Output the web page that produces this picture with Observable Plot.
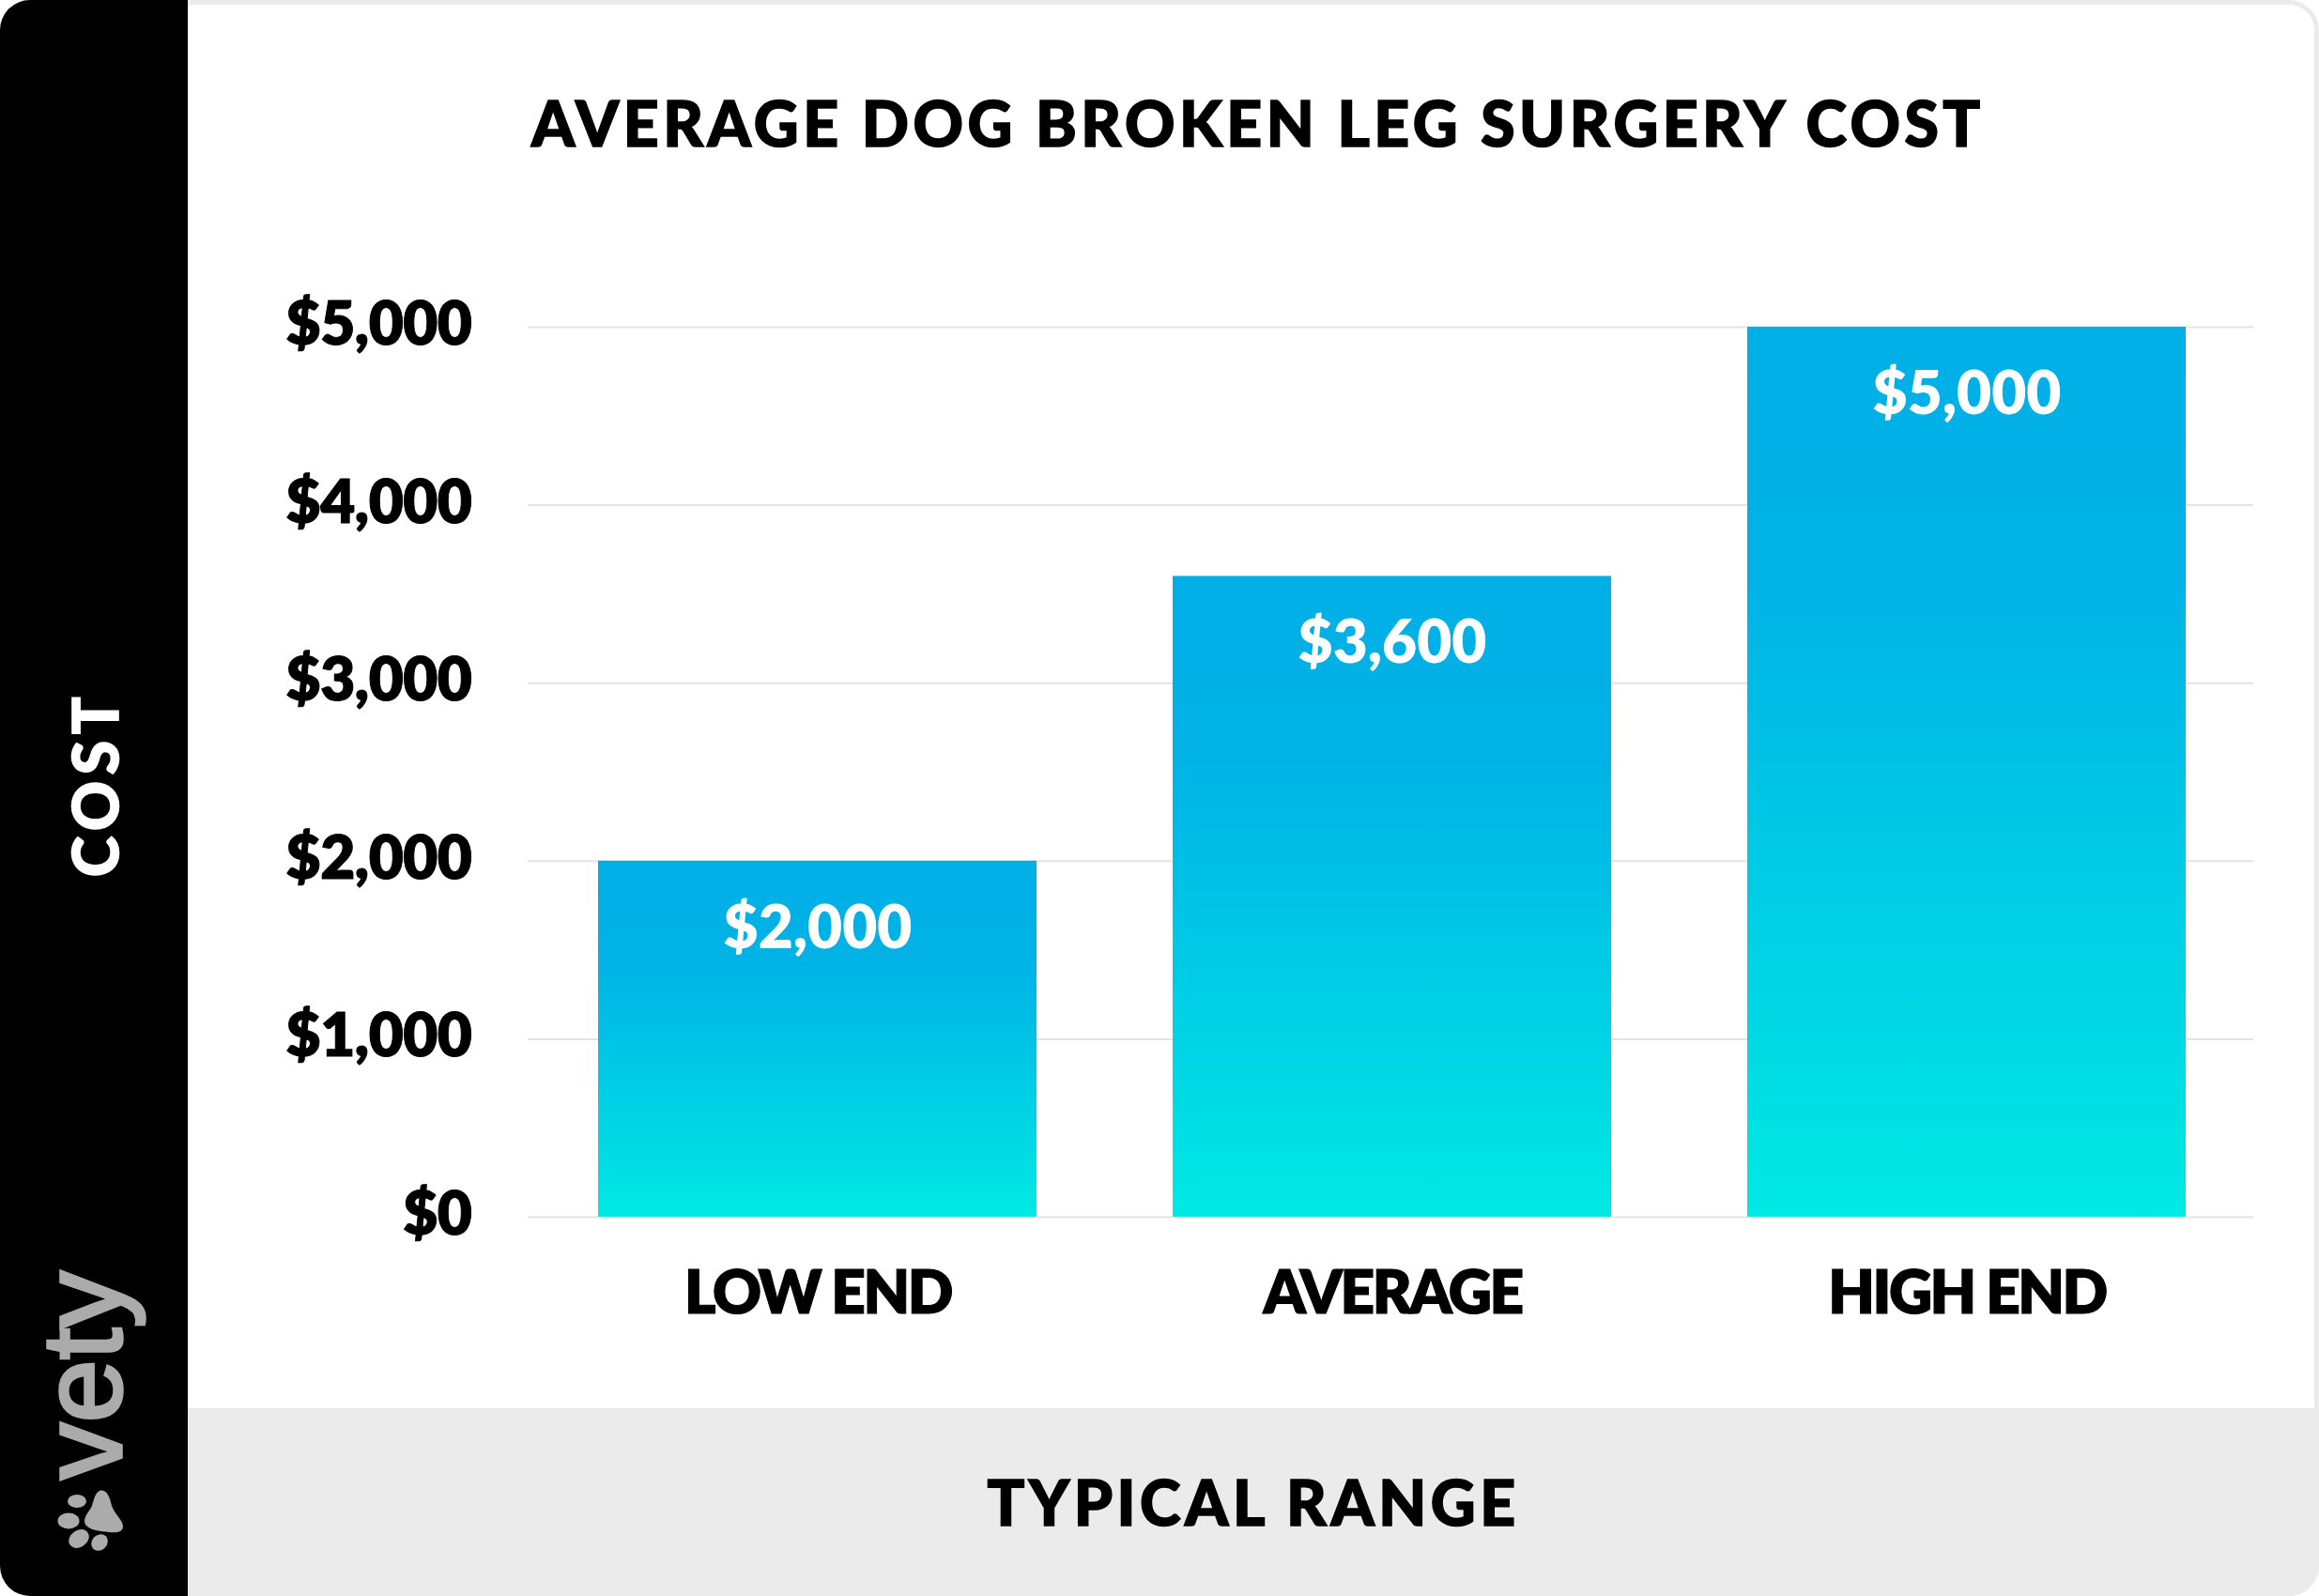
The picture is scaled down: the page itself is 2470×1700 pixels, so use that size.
<!DOCTYPE html>
<html><head><meta charset="utf-8">
<script src="https://cdn.jsdelivr.net/npm/d3@7"></script>
<script src="https://cdn.jsdelivr.net/npm/@observablehq/plot@0.6"></script>
<style>
html,body{margin:0;padding:0;background:#fff;}
#page{position:relative;width:2470px;height:1700px;overflow:hidden;background:#fff;font-family:Lato,sans-serif;}
#frame{position:absolute;left:100px;top:0;width:2370px;height:1700px;box-sizing:border-box;border:5px solid #ebebeb;border-left:none;border-radius:0 32px 32px 0;}
#band{position:absolute;left:200px;top:1500px;width:2270px;height:200px;background:#ebebeb;border-radius:0 0 32px 0;}
#side{position:absolute;left:0;top:0;width:200px;height:1700px;background:#000;border-radius:32px 0 0 32px;}
.t{position:absolute;white-space:nowrap;font-weight:900;color:#000;line-height:1;}
#title{left:566px;top:98px;font-size:66px;letter-spacing:4.5px;-webkit-text-stroke:1.6px #000;}
#xlab{left:1335px;top:1567px;font-size:66px;letter-spacing:4.5px;transform:translateX(-50%);-webkit-text-stroke:1.6px #000;}
#ylab{left:101px;top:835px;font-size:66px;letter-spacing:6.6px;color:#fff;transform:translate(-50%,-50%) rotate(-90deg);-webkit-text-stroke:1.6px #fff;}
#vety{left:87px;top:1576px;font-family:"Liberation Sans";font-weight:400;font-size:121px;color:#ababab;-webkit-text-stroke:3.5px #ababab;transform:rotate(-90deg);transform-origin:0 0;line-height:0;}
#paw{position:absolute;left:0;top:1550px;}
svg.chart{position:absolute;left:0;top:0;}
svg.chart text{font-family:Lato,sans-serif;font-weight:800;}
svg.chart g[aria-label="y-axis tick label"] text,svg.chart g[aria-label="value label"] text{letter-spacing:-0.5px;}
svg.chart g[aria-label="x-axis tick label"] text{letter-spacing:-2.5px;}
svg.chart g[aria-label="y-axis tick label"] text,svg.chart g[aria-label="x-axis tick label"] text{stroke:#000;stroke-width:1px;}
svg.chart g[aria-label="value label"] text{stroke:#fff;stroke-width:1px;}
</style></head>
<body><div id="page">
<div id="frame"></div><div id="band"></div><div id="side"></div>
<div class="t" id="title">AVERAGE DOG BROKEN LEG SURGERY COST</div>
<div class="t" id="xlab">TYPICAL RANGE</div>
<div class="t" id="ylab">COST</div>
<div class="t" id="vety">vety</div>
<svg id="paw" width="200" height="110" viewBox="0 1550 200 110" fill="#ababab">
<ellipse cx="82" cy="1599" rx="10" ry="7"/><ellipse cx="73" cy="1620" rx="11.5" ry="8.5"/>
<ellipse cx="84" cy="1639" rx="11.5" ry="9" transform="rotate(-35 84 1639)"/><ellipse cx="106" cy="1643" rx="9.5" ry="8" transform="rotate(-45 106 1643)"/>
<path d="M106 1588C112 1586 116 1592 118 1600C120 1612 131 1618 131 1626C131 1632 124 1633 116 1632C106 1631 96 1630 91 1624C88 1618 93 1612 97 1606C100 1600 100 1591 106 1588Z"/>
</svg>
</div>
<script>
const categories = ["LOW END", "AVERAGE", "HIGH END"];
const costs = [2000, 3600, 5000];
const yTicks = [0, 1000, 2000, 3000, 4000, 5000];
const table = categories.map((c, i) => ({category: c, cost: costs[i]}));
const money = d => "$" + d3.format(",")(d);

function gradientDefs() {
  const ns = "http://www.w3.org/2000/svg";
  const defs = document.createElementNS(ns, "defs");
  const g = document.createElementNS(ns, "linearGradient");
  g.setAttribute("id", "barFill");
  g.setAttribute("x1", 0); g.setAttribute("x2", 0); g.setAttribute("y1", 0); g.setAttribute("y2", 1);
  [["0%", "#00afe6"], ["28%", "#00b2e6"], ["100%", "#00e9e4"]].forEach(([o, c]) => {
    const s = document.createElementNS(ns, "stop");
    s.setAttribute("offset", o); s.setAttribute("stop-color", c);
    g.appendChild(s);
  });
  defs.appendChild(g);
  return defs;
}

const chart = Plot.plot({
  width: 2470, height: 1700,
  marginLeft: 562, marginRight: 70, marginTop: 348, marginBottom: 404,
  className: "chart",
  style: {background: "transparent", overflow: "visible"},
  x: {domain: categories, range: [563.5, 2402], paddingInner: 0.2365, paddingOuter: 0.118, label: null},
  y: {domain: [0, 5000], label: null},
  marks: [
    gradientDefs,
    Plot.ruleY(yTicks, {stroke: "#e3e3e3", strokeWidth: 2}),
    Plot.barY(table, {x: "category", y: "cost", fill: "url(#barFill)"}),
    Plot.axisY({ticks: yTicks, tickSize: 0, tickPadding: 60, tickFormat: money, fontSize: 64, fill: "#000", label: null, dy: -2}),
    Plot.axisX({tickSize: 0, tickPadding: 57, fontSize: 64, fill: "#000", label: null}),
    Plot.text(table, {x: "category", y: "cost", text: d => money(d.cost), dy: 72, fill: "#fff", fontSize: 64, ariaLabel: "value label"})
  ]
});
document.getElementById("page").appendChild(chart);
</script>
</body></html>
